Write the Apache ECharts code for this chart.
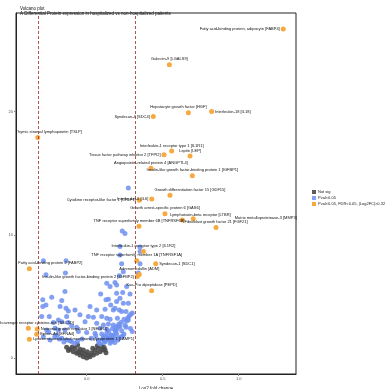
<!DOCTYPE html>
<html><head><meta charset="utf-8">
<script src="https://cdn.jsdelivr.net/npm/echarts@6/dist/echarts.min.js"></script>
<style>html,body{margin:0;padding:0;background:#fff}#c{width:386px;height:389px}</style>
</head><body><div id="c"></div>
<script>
// ---- data ----
const titleLine1 = "Volcano plot";
const titleLine2 = "A Differential Protein expression in hospitalized vs non-hospitalized patients";
const xTitle = "Log2 fold change";
const yTitle = "-Log10 P value";
const xTicks = [0, 0.5, 1.0];
const yTicks = [0, 10, 20];
const fcThreshold = [-0.32, 0.32];
const legendNames = ["Not sig", "Pval<0.05", "Pval<0.05, FDR<0.05, |Log2FC|>0.32"];

const sigX = [1.293,0.544,0.438,0.669,0.822,-0.322,0.559,0.509,0.680,0.423,0.695,0.548,0.428,0.346,0.515,0.629,0.701,0.344,0.851,0.373,0.329,0.454,-0.377,0.346,0.333,0.427,-0.384,-0.325,-0.329,-0.377];
const sigY = [26.7,23.8,19.6,19.9,20.0,17.9,16.8,16.5,16.4,15.4,14.8,13.2,12.9,12.8,11.7,11.2,11.3,10.7,10.6,8.64,7.9,7.64,7.24,6.77,6.61,5.45,2.41,2.36,1.93,1.52];
const sigNames = [
 "Fatty acid-binding protein, adipocyte [FABP4]",
 "Galectin-9 [LGALS9]",
 "Syndecan-4 [SDC4]",
 "Hepatocyte growth factor [HGF]",
 "Interleukin-18 [IL18]",
 "Thymic stromal lymphopoietin [TSLP]",
 "Interleukin-1 receptor type 1 [IL1R1]",
 "Tissue factor pathway inhibitor 2 [TFPI2]",
 "Leptin [LEP]",
 "Angiopoietin-related protein 4 [ANGPTL4]",
 "Insulin-like growth factor-binding protein 1 [IGFBP1]",
 "Growth differentiation factor 15 [GDF15]",
 "Interleukin-6 [IL6]",
 "Cytokine receptor-like factor 1 [CRLF1]",
 "Growth arrest-specific protein 6 [GAS6]",
 "Lymphotoxin-beta receptor [LTBR]",
 "Matrix metalloproteinase-3 [MMP3]",
 "TNF receptor superfamily member 6B [TNFRSF6B]",
 "Fibroblast growth factor 21 [FGF21]",
 "Interleukin-1 receptor type 2 [IL1R2]",
 "TNF receptor superfamily member 1A [TNFRSF1A]",
 "Syndecan-1 [SDC1]",
 "Fatty acid-binding protein 2 [FABP2]",
 "Adrenomedullin [ADM]",
 "Insulin-like growth factor-binding protein 2 [IGFBP2]",
 "Xaa-Pro dipeptidase [PEPD]",
 "Scavenger receptor cysteine-rich [SSC5D]",
 "Neuronal growth regulator 1 [NEGR1]",
 "Ephrin-A4 [EFNA4]",
 "Lysosome-associated membrane glycoprotein 1 [LAMP1]"
];
const sigLabelSide = ["left","top","left","top","right","top","top","left","top","top","top","top","left","left","top","top","right","top","top","top","top","right","top","top","left","top","top","right","right","right"];

const blueX = [0.219,0.351,-0.285,-0.136,0.230,0.351,-0.268,0.241,0.340,-0.140,0.215,0.186,0.132,0.197,0.154,0.263,-0.143,0.197,0.237,0.092,0.285,-0.230,0.143,0.127,0.219,0.274,0.241,-0.289,-0.164,-0.268,-0.175,-0.136,-0.121,-0.077,0.066,0.121,0.175,0.215,0.230,0.259,-0.296,-0.246,-0.132,-0.044,0.044,0.099,0.132,0.154,0.202,0.246,0.274,-0.186,-0.164,-0.219,-0.121,-0.011,0.066,0.110,0.143,0.175,0.219,0.259,-0.099,-0.066,0.088,0.132,0.186,0.230,-0.263,-0.208,-0.143,-0.055,0.000,0.055,0.099,0.132,0.164,0.197,0.237,0.110,0.143,0.175,0.208,0.077,0.121,0.154,-0.132,-0.099,-0.164,-0.197,-0.285,-0.241,-0.077,0.088,-0.289,-0.186,0.011,0.022,0.197,0.158,0.186,0.274,0.234,0.252,0.350,0.219,0.160,0.170,0.180,0.190,0.200,0.210,0.150,0.165,0.185,0.205,0.225,0.245,0.120,0.140,0.160,0.115,0.135,0.105,0.125,0.145,0.170,0.195,0.212,0.228,0.262,0.280,0.300,0.290,0.270,0.253,0.300,0.288,-0.150,-0.110,-0.180,-0.210,-0.250,-0.060,-0.030,0.030,0.060,0.080];
const blueY = [9.05,8.64,7.90,7.90,7.64,7.64,6.75,7.00,6.90,6.90,6.67,6.12,6.07,5.93,5.80,5.80,5.39,5.26,5.31,5.20,5.20,4.93,4.77,4.72,4.85,4.44,4.44,4.72,4.66,4.31,4.17,4.04,3.82,3.90,3.90,3.96,3.90,3.90,3.77,3.77,3.36,3.36,3.36,3.50,3.30,3.36,3.22,3.14,3.22,3.14,3.09,3.09,2.95,2.87,2.87,2.95,2.82,2.68,2.76,2.68,2.55,2.49,2.60,2.49,2.41,2.33,2.28,2.22,2.28,2.41,2.28,2.14,2.06,2.00,1.95,2.00,1.87,1.95,1.79,1.73,1.60,1.52,1.60,1.46,1.33,1.19,1.46,1.33,1.60,1.87,1.73,1.46,1.19,1.14,4.17,2.28,3.36,4.17,4.58,4.31,4.04,13.8,10.3,10.1,9.00,8.35,1.40,1.65,1.80,2.10,2.35,2.60,1.55,1.35,1.25,1.45,1.70,1.95,1.40,1.65,1.85,1.25,1.50,1.55,1.75,2.20,2.40,2.55,2.75,2.90,3.00,3.40,3.65,3.55,3.25,2.65,2.15,2.40,1.30,1.40,1.55,1.70,2.10,1.35,1.55,1.60,1.80,1.30];

const grayX = [0.000,-0.022,0.022,-0.044,0.044,-0.066,0.066,-0.088,0.088,-0.110,0.105,-0.033,0.033,-0.011,0.011,-0.055,0.055,0.077,0.121,0.127,-0.132,-0.077,-0.044,0.040,0.004,-0.022,-0.095,0.098,0.115,-0.120,0.070,-0.060];
const grayY = [0.00,0.11,0.11,0.24,0.24,0.38,0.38,0.51,0.51,0.70,0.65,0.43,0.43,0.33,0.24,0.51,0.65,0.79,0.65,0.43,0.87,0.79,0.70,0.79,0.51,0.65,0.90,0.95,0.85,0.60,1.00,1.05];

// ---- label nudges (style only, pixels) ----
const labelNudge = { 3: [-10, 0], 16: [38, -1], 22: [21, 0], 5: [11, 0], 11: [20, 0], 15: [18, 0], 26: [8, 0] };

// ---- chart ----
const font = "Liberation Sans, Arial, sans-serif";
const toPts = (xs, ys) => xs.map((x, i) => [x, ys[i]]);
const sigData = sigX.map((x, i) => ({
  value: [x, sigY[i]],
  name: sigNames[i],
  label: { position: sigLabelSide[i] }
}));

const chart = echarts.init(document.getElementById('c'), null, { renderer: 'canvas' });
chart.setOption({
  animation: false,
  backgroundColor: '#ffffff',
  textStyle: { fontFamily: font },
  title: [
    { text: titleLine1, left: 15, top: 1, textStyle: { fontSize: 4.5, fontWeight: 'normal', color: '#111', fontFamily: font } },
    { text: titleLine2, left: 15, top: 6, textStyle: { fontSize: 4.5, fontWeight: 'normal', color: '#111', fontFamily: font } }
  ],
  legend: {
    orient: 'vertical', left: 307, top: 185,
    itemWidth: 4, itemHeight: 4, itemGap: 2, icon: 'rect',
    textStyle: { fontSize: 4, color: '#222', fontFamily: font, padding: [0,0,0,-3] },
    data: legendNames
  },
  grid: { left: 16, right: 90, top: 13, bottom: 15, show: true, borderColor: '#222', borderWidth: 1, containLabel: false, outerBoundsMode: 'none' },
  xAxis: {
    type: 'value', min: -0.465, max: 1.377,
    name: xTitle, nameLocation: 'middle', nameGap: 7,
    nameTextStyle: { fontSize: 4.5, color: '#222', fontFamily: font },
    axisLine: { show: true, onZero: false, lineStyle: { color: '#222', width: 1 } },
    axisTick: { show: true, length: 2, lineStyle: { color: '#888' }, customValues: xTicks },
    axisLabel: { fontSize: 4, color: '#555', margin: 3, customValues: xTicks, formatter: v => v.toFixed(1) },
    splitLine: { show: false }
  },
  yAxis: {
    type: 'value', min: -1.3, max: 28,
    name: yTitle, nameLocation: 'middle', nameGap: 9, nameRotate: 90,
    nameTextStyle: { fontSize: 4.5, color: '#222', fontFamily: font },
    axisLine: { show: true, onZero: false, lineStyle: { color: '#222', width: 1 } },
    axisTick: { show: true, length: 2, lineStyle: { color: '#888' }, customValues: yTicks },
    axisLabel: { fontSize: 4, color: '#555', margin: 3, customValues: yTicks },
    splitLine: { show: false }
  },
  series: [
    {
      name: legendNames[0], type: 'scatter', symbolSize: 5, z: 2,
      itemStyle: { color: '#4a4a4a', opacity: 0.9 },
      data: toPts(grayX, grayY),
      markLine: {
        silent: true, symbol: ['none', 'none'], label: { show: false },
        lineStyle: { color: '#9b2a2a', type: [3, 2], width: 0.8 },
        data: fcThreshold.map(v => ({ xAxis: v }))
      }
    },
    {
      name: legendNames[1], type: 'scatter', symbolSize: 5, z: 3,
      itemStyle: { color: '#6d8ff0', opacity: 0.85 },
      data: toPts(blueX, blueY)
    },
    {
      name: legendNames[2], type: 'scatter', symbolSize: 5, z: 4,
      itemStyle: { color: '#f6a941', opacity: 1 },
      label: { show: true, formatter: p => p.name, fontSize: 4, color: '#111', distance: 1, fontFamily: font },
      labelLayout: p => {
        const n = labelNudge[p.dataIndex] || [0, 0];
        return { dx: n[0], dy: n[1], hideOverlap: false };
      },
      data: sigData
    }
  ]
});
</script></body></html>
